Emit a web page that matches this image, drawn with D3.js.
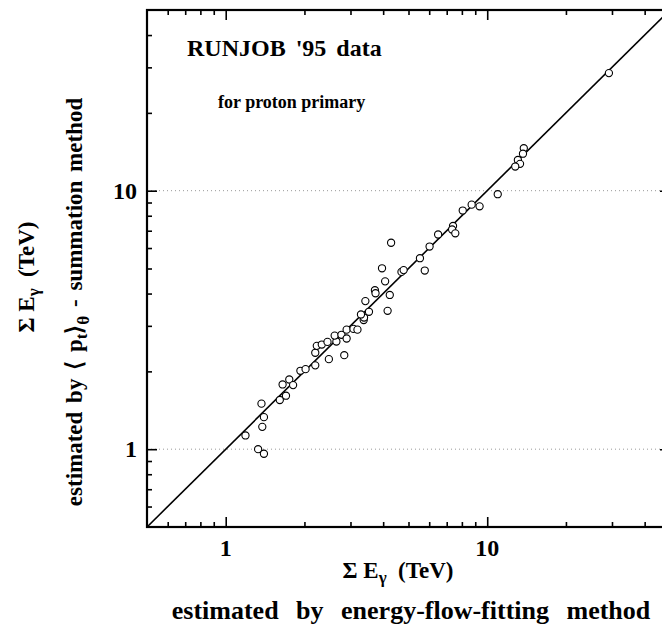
<!DOCTYPE html>
<html>
<head>
<meta charset="utf-8">
<script src="https://cdn.jsdelivr.net/npm/d3@7"></script>
<style>
  body { margin: 0; background: #fff; }
  text { font-family: "Liberation Serif", "Times New Roman", serif; font-weight: bold; fill: #000; }
</style>
</head>
<body>
<div id="chart"></div>
<script>
// energy-flow-fitting estimate (x) vs <pt>-summation estimate (y), TeV
const flowE = [1.19, 1.33, 1.40, 1.37, 1.40, 1.38, 1.61, 1.70, 1.65, 1.75,
  1.81, 1.93, 2.02, 2.20, 2.48, 2.84, 2.20, 2.23, 2.33, 2.45,
  2.65, 2.61, 2.77, 2.90, 2.90, 3.08, 3.19, 3.37, 3.38, 3.29,
  3.53, 4.16, 4.24, 3.42, 3.72, 3.74, 4.07, 3.96, 4.29, 4.70,
  4.79, 5.53, 5.77, 6.02, 6.49, 7.40, 7.34, 7.55, 8.06, 8.72,
  9.35, 10.97, 13.8, 13.7, 13.1, 13.35, 12.8, 29.2];
const sumE = [1.13, 1.00, 0.96, 1.50, 1.33, 1.22, 1.55, 1.61, 1.78, 1.86,
  1.77, 2.01, 2.04, 2.11, 2.23, 2.31, 2.36, 2.51, 2.54, 2.60,
  2.61, 2.75, 2.77, 2.68, 2.90, 2.92, 2.90, 3.16, 3.23, 3.32,
  3.40, 3.43, 3.95, 3.74, 4.12, 4.01, 4.46, 5.01, 6.29, 4.85,
  4.93, 5.48, 4.91, 6.08, 6.77, 7.30, 7.08, 6.84, 8.38, 8.83,
  8.70, 9.69, 14.6, 13.9, 13.15, 12.7, 12.4, 28.5];

const axisDomain = [0.5, 50];
const majorTicks = [1, 10];
const minorTicks = [0.6, 0.7, 0.8, 0.9, 2, 3, 4, 5, 6, 7, 8, 9, 20, 30, 40];
const gridLevels = [1, 10];

const width = 662, height = 631;
const plot = { left: 147, right: 670, top: 10, bottom: 527 };

const svg = d3.select("#chart")
  .append("svg")
  .attr("width", width)
  .attr("height", height);

svg.append("rect").attr("width", width).attr("height", height).attr("fill", "#fff");

const x = d3.scaleLog().domain(axisDomain).range([plot.left, plot.right]);
const y = d3.scaleLog().domain(axisDomain).range([plot.bottom, plot.top]);

const pw = plot.right - plot.left, ph = plot.bottom - plot.top;

svg.append("clipPath").attr("id", "clip")
  .append("rect")
  .attr("x", plot.left).attr("y", plot.top)
  .attr("width", pw).attr("height", ph);

// dotted grid at the decades
svg.selectAll(".grid")
  .data(gridLevels)
  .enter().append("line")
  .attr("class", "grid")
  .attr("x1", plot.left).attr("x2", plot.right)
  .attr("y1", d => y(d)).attr("y2", d => y(d))
  .attr("stroke", "#999")
  .attr("stroke-width", 1)
  .attr("stroke-dasharray", "1,3");

// ticks on all four sides, pointing in
function ticks(axisFn, scale, values, size, transform) {
  const g = svg.append("g")
    .attr("transform", transform)
    .call(axisFn(scale).tickValues(values).tickSize(-size).tickFormat(""));
  g.select(".domain").remove();
  g.selectAll("line").attr("stroke", "#000").attr("stroke-width", 1.6);
}
ticks(d3.axisBottom, x, minorTicks, 5, `translate(0,${plot.bottom})`);
ticks(d3.axisBottom, x, majorTicks, 10, `translate(0,${plot.bottom})`);
ticks(d3.axisTop, x, minorTicks, 5, `translate(0,${plot.top})`);
ticks(d3.axisTop, x, majorTicks, 10, `translate(0,${plot.top})`);
ticks(d3.axisLeft, y, minorTicks, 5, `translate(${plot.left},0)`);
ticks(d3.axisLeft, y, majorTicks, 10, `translate(${plot.left},0)`);
ticks(d3.axisRight, y, minorTicks, 5, `translate(${plot.right},0)`);
ticks(d3.axisRight, y, majorTicks, 10, `translate(${plot.right},0)`);

// frame
svg.append("rect")
  .attr("x", plot.left).attr("y", plot.top)
  .attr("width", pw).attr("height", ph)
  .attr("fill", "none")
  .attr("stroke", "#000")
  .attr("stroke-width", 2.2);

// y = x line
svg.append("line")
  .attr("clip-path", "url(#clip)")
  .attr("x1", x(axisDomain[0])).attr("y1", y(axisDomain[0]))
  .attr("x2", x(axisDomain[1])).attr("y2", y(axisDomain[1]))
  .attr("stroke", "#000")
  .attr("stroke-width", 1.6);

// data points
svg.selectAll(".dot")
  .data(flowE.map((d, i) => [d, sumE[i]]))
  .enter().append("circle")
  .attr("class", "dot")
  .attr("cx", d => x(d[0]))
  .attr("cy", d => y(d[1]))
  .attr("r", 3.6)
  .attr("fill", "#fff")
  .attr("stroke", "#000")
  .attr("stroke-width", 1.1);

// tick labels
svg.selectAll(".xlab")
  .data(majorTicks)
  .enter().append("text")
  .attr("x", d => x(d))
  .attr("y", 556)
  .attr("text-anchor", "middle")
  .style("font-size", "24px")
  .text(d => d);

svg.selectAll(".ylab")
  .data(majorTicks)
  .enter().append("text")
  .attr("x", 137)
  .attr("y", d => y(d) + 8)
  .attr("text-anchor", "end")
  .style("font-size", "24px")
  .text(d => d);

// x-axis titles
const xt = svg.append("text")
  .attr("x", 398).attr("y", 578)
  .attr("text-anchor", "middle")
  .style("font-size", "23px");
xt.append("tspan").text("Σ E");
xt.append("tspan").attr("dy", 5).style("font-size", "17px").text("γ");
xt.append("tspan").attr("dy", -5).text("\u00a0\u00a0(TeV)");

svg.append("text")
  .attr("x", 411).attr("y", 619)
  .attr("text-anchor", "middle")
  .style("font-size", "26px")
  .style("word-spacing", "11px")
  .text("estimated by energy-flow-fitting method");

// y-axis titles
const yt = svg.append("text")
  .attr("transform", "translate(34,277) rotate(-90)")
  .attr("text-anchor", "middle")
  .style("font-size", "23px");
yt.append("tspan").text("Σ E");
yt.append("tspan").attr("dy", 5).style("font-size", "17px").text("γ");
yt.append("tspan").attr("dy", -5).text("\u00a0\u00a0(TeV)");

const yt2 = svg.append("text")
  .attr("transform", "translate(82,302) rotate(-90)")
  .attr("text-anchor", "middle")
  .style("font-size", "23px")
  .style("word-spacing", "3px");
yt2.append("tspan").text("estimated by \u27e8 p");
yt2.append("tspan").attr("dy", 5).style("font-size", "17px").text("t");
yt2.append("tspan").attr("dy", -5).text("\u27e9");
yt2.append("tspan").attr("dy", 7).style("font-size", "17px").text("θ");
yt2.append("tspan").attr("dy", -7).text(" - summation method");

// in-plot labels
svg.append("text")
  .attr("x", 187).attr("y", 56)
  .style("font-size", "24px")
  .style("word-spacing", "4px")
  .text("RUNJOB '95 data");

svg.append("text")
  .attr("x", 218).attr("y", 108)
  .style("font-size", "18px")
  .text("for proton primary");
</script>
</body>
</html>
